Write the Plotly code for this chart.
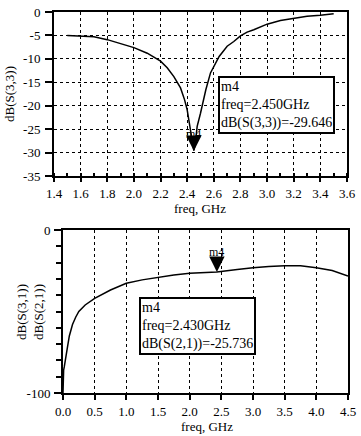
import plotly.graph_objects as go

# ---- Top chart data: dB(S(3,3)) vs freq (GHz)
freq_top = [1.5, 1.6, 1.7, 1.8, 1.9, 2.0, 2.1, 2.2, 2.25, 2.3, 2.35, 2.38, 2.4, 2.42,
            2.44, 2.45, 2.46, 2.475, 2.5, 2.54, 2.575, 2.6, 2.64, 2.7, 2.75, 2.8, 2.85,
            2.9, 3.0, 3.1, 3.2, 3.3, 3.4, 3.5]
s33_top = [-5.0, -5.1, -5.3, -5.9, -6.8, -7.6, -8.8, -10.5, -11.9, -13.8, -16.2, -18.7, -20.9, -24.4,
           -28.0, -29.6, -28.3, -24.4, -21.6, -16.6, -13.0, -11.6, -9.5, -7.3, -6.3, -5.1, -4.3,
           -3.8, -2.6, -1.8, -1.3, -0.9, -0.7, -0.4]
m_top_freq = 2.45
m_top_val = -29.646
top_xticks = [1.4, 1.6, 1.8, 2.0, 2.2, 2.4, 2.6, 2.8, 3.0, 3.2, 3.4, 3.6]
top_yticks = [0, -5, -10, -15, -20, -25, -30, -35]

# ---- Bottom chart data: dB(S(2,1)) vs freq (GHz)
freq_bot = [0.0, 0.0, 0.01, 0.02, 0.03, 0.05, 0.07, 0.1, 0.15, 0.2, 0.25, 0.35, 0.5, 0.75,
            1.0, 1.25, 1.5, 1.75, 2.0, 2.25, 2.43, 2.75, 3.0, 3.25, 3.5, 3.75, 4.0, 4.25, 4.5]
s21_bot = [-100, -88, -86, -84, -82, -78, -72, -65, -58, -53.5, -50, -46, -42, -36.8,
           -32.7, -30.6, -29.0, -27.6, -26.6, -26.0, -25.7, -24.3, -23.1, -22.4, -21.9, -22.0, -23.1, -24.8, -28.2]
m_bot_freq = 2.43
m_bot_val = -25.736
bot_xticks = [0.0, 0.5, 1.0, 1.5, 2.0, 2.5, 3.0, 3.5, 4.0, 4.5]
bot_yticks = [0, -100]

FONT = "Liberation Serif"
W, H = 361, 436


def px_x(p):
    return p / W


def px_y(p):
    return (H - p) / H


fig = go.Figure()
fig.add_trace(go.Scatter(x=freq_top, y=s33_top, mode="lines",
                         line=dict(color="black", width=1.5), xaxis="x", yaxis="y",
                         showlegend=False, hoverinfo="skip"))
fig.add_trace(go.Scatter(x=freq_bot, y=s21_bot, mode="lines",
                         line=dict(color="black", width=1.5), xaxis="x2", yaxis="y2",
                         showlegend=False, hoverinfo="skip"))

axis_common = dict(showline=True, linecolor="black", linewidth=2, mirror=True,
                   ticks="outside", tickcolor="black", tickwidth=1.5,
                   tickfont=dict(family=FONT, size=13, color="black"),
                   zeroline=False, automargin=False, ticklabeloverflow="allow")
title_font = dict(family=FONT, size=13, color="black")

fig.update_layout(
    width=W, height=H,
    margin=dict(l=0, r=0, t=0, b=0),
    paper_bgcolor="white", plot_bgcolor="white",
    font=dict(family=FONT, color="black"),
    xaxis=dict(domain=[px_x(54), px_x(347)], anchor="y", range=[1.4, 3.6],
               tickvals=top_xticks, ticktext=[f"{v:.1f}" for v in top_xticks],
               showgrid=True, gridcolor="black", griddash="dot", gridwidth=1, ticklen=4,
               minor=dict(dtick=0.1, tick0=1.4, ticks="inside", ticklen=3, tickcolor="black", showgrid=False),
               **axis_common),
    yaxis=dict(domain=[px_y(176), px_y(12)], anchor="x", range=[-35, 0],
               tickvals=top_yticks, ticktext=[str(v) for v in top_yticks],
               showgrid=True, gridcolor="black", griddash="dot", gridwidth=1,
               ticklen=7, ticklabelstandoff=2,
               title=dict(text="dB(S(3,3))", font=title_font, standoff=6),
               **axis_common),
    xaxis2=dict(domain=[px_x(63), px_x(348)], anchor="y2", range=[0, 4.5],
                tickvals=bot_xticks, ticktext=[f"{v:.1f}" for v in bot_xticks],
                showgrid=True, gridcolor="black", griddash="dot", gridwidth=1, ticklen=5,
                **axis_common),
    yaxis2=dict(domain=[px_y(393), px_y(230)], anchor="x2", range=[-100, 0],
                tickvals=bot_yticks, ticktext=[str(v) for v in bot_yticks],
                showgrid=False, ticklen=7, ticklabelstandoff=1,
                minor=dict(dtick=10, tick0=0, ticks="outside", ticklen=5, tickcolor="black", showgrid=False),
                **axis_common),
)

# axis titles
fig.add_annotation(xref="paper", yref="paper", x=px_x(200), y=px_y(208), text="freq, GHz",
                   showarrow=False, xanchor="center", yanchor="middle", font=title_font)
fig.add_annotation(xref="paper", yref="paper", x=px_x(207), y=px_y(426), text="freq, GHz",
                   showarrow=False, xanchor="center", yanchor="middle", font=title_font)
fig.add_annotation(xref="paper", yref="paper", x=px_x(30), y=px_y(312), text="dB(S(3,1))<br>dB(S(2,1))",
                   showarrow=False, xanchor="center", yanchor="middle", textangle=-90, font=title_font)

# marker triangles
for xr, yr, mx, my in [("x", "y", m_top_freq, m_top_val), ("x2", "y2", m_bot_freq, m_bot_val)]:
    fig.add_annotation(x=mx, y=my, xref=xr, yref=yr, text="", showarrow=True,
                       ax=0, ay=-14, arrowhead=2, arrowsize=1.4, arrowwidth=2.2,
                       arrowcolor="black", standoff=0)
    fig.add_annotation(x=mx, y=my, xref=xr, yref=yr, text="m4", showarrow=False,
                       yanchor="bottom", yshift=11 if xr == "x2" else 8,
                       font=dict(family=FONT, size=12, color="black"))

# marker readout boxes
box_font = dict(family=FONT, size=14, color="black")
fig.add_annotation(xref="paper", yref="paper", x=px_x(218), y=px_y(76), xanchor="left", yanchor="top",
                   text=f"m4<br>freq={m_top_freq:.3f}GHz<br>dB(S(3,3))={m_top_val:.3f}",
                   showarrow=False, align="left", bgcolor="white", bordercolor="black",
                   borderwidth=2, borderpad=1, font=box_font)
fig.add_annotation(xref="paper", yref="paper", x=px_x(139), y=px_y(297), xanchor="left", yanchor="top",
                   text=f"m4<br>freq={m_bot_freq:.3f}GHz<br>dB(S(2,1))={m_bot_val:.3f}",
                   showarrow=False, align="left", bgcolor="white", bordercolor="black",
                   borderwidth=2, borderpad=1, font=box_font)

fig.write_html("out.html", config={"displayModeBar": False},
               post_script="document.body.style.margin='0';")
